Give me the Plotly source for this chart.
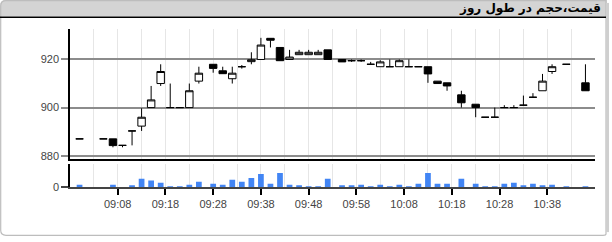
import plotly.graph_objects as go

DAY = "2024-01-01 "
times = ["09:00", "09:05", "09:07", "09:09", "09:11", "09:13", "09:15", "09:17", "09:19", "09:21",
         "09:23", "09:25", "09:28", "09:30", "09:32", "09:34", "09:36", "09:38", "09:40", "09:42",
         "09:44", "09:46", "09:48", "09:50", "09:52", "09:55", "09:57", "09:59", "10:01", "10:03",
         "10:05", "10:07", "10:09", "10:11", "10:13", "10:15", "10:17", "10:20", "10:23", "10:25",
         "10:27", "10:29", "10:31", "10:33", "10:35", "10:37", "10:39", "10:42", "10:46"]
open_ = [887, 887, 887, 884.3, 890.3, 892.3, 900, 910, 900, 900,
         900, 911, 918, 915.3, 912, 917, 919.1, 920, 928.8, 925,
         920, 922, 922, 922, 924, 920, 919.5, 919.5, 918, 917,
         917, 917, 917, 917, 917, 911, 910.3, 905.3, 901.4, 896,
         896, 900, 900, 901, 904.3, 907, 915, 918, 910.3]
high = [887, 887, 887, 884.3, 890.3, 899.7, 909, 918, 910, 900,
        910, 917, 918, 917, 917, 917.7, 923, 929, 928.8, 925,
        924, 924, 924, 924, 924, 920, 920, 920, 919, 919.7,
        920, 920, 920, 917, 917, 911, 910.3, 907, 901.4, 896,
        900, 901, 901, 905, 906, 914, 918, 918, 918]
low = [887, 887, 883.5, 883.5, 884.3, 890.3, 900, 909, 900, 900,
       900, 910, 914.5, 914.1, 910, 916.2, 918, 920, 925, 919.5,
       920, 922, 922, 922, 920, 919, 919, 919, 918, 917,
       917, 917, 917, 917, 910.3, 910, 907, 900, 896, 896,
       896, 900, 900, 901, 904.3, 907, 914, 918, 907]
close = [887, 887, 884.2, 884.3, 890.3, 896, 903.2, 915, 900, 900,
         907, 914.3, 916.3, 914.1, 914.3, 917, 919.9, 926, 928, 919.5,
         921, 923, 923, 923, 920, 919, 919.5, 919.5, 918, 919,
         917, 919.5, 917, 917, 914, 910, 909, 902, 900, 896,
         896, 900, 900, 901, 904.3, 911, 917, 918, 907]
volume = [2.3, 0, 2.3, 0, 1.3, 8.3, 6.7, 4.3, 0.4, 0.4,
          2.3, 5.3, 3.3, 2.3, 7.3, 5.3, 9.3, 13.3, 3.3, 14.3,
          2.3, 1.3, 0.7, 0.3, 8.3, 1.3, 1.3, 2.3, 0.4, 2.3,
          0.4, 2.3, 0.4, 3.3, 14.3, 3.3, 3.3, 8.3, 3.3, 0.4,
          0.4, 3.3, 4.3, 1.3, 3.3, 1.3, 2.3, 0.4, 0.4]
price_ticks = [880, 900, 920]
time_ticks = ["09:08", "09:18", "09:28", "09:38", "09:48", "09:58", "10:08", "10:18", "10:28", "10:38"]
half_ticks = ["09:03", "09:13", "09:23", "09:33", "09:43", "09:53", "10:03", "10:13", "10:23", "10:33", "10:43"]
title_text = "قیمت،حجم در طول روز"

x = [DAY + t for t in times]
tickv = [DAY + t for t in time_ticks]
minorv = [DAY + t for t in half_ticks]
W, H = 612, 242


def px(xp):
    return xp / W


def py(yp):
    return 1 - yp / H


fig = go.Figure()
fig.add_trace(go.Candlestick(
    x=x, open=open_, high=high, low=low, close=close,
    xaxis="x", yaxis="y",
    increasing=dict(line=dict(color="black", width=1), fillcolor="white"),
    decreasing=dict(line=dict(color="black", width=1), fillcolor="black"),
    whiskerwidth=0, showlegend=False, hoverinfo="skip",
))
fig.add_trace(go.Bar(
    x=x, y=volume, xaxis="x2", yaxis="y2",
    marker=dict(color="#4285f4", line=dict(width=0)),
    width=[72000] * len(x), showlegend=False, hoverinfo="skip",
))

grid_light = "#e6e6e6"
tickfont = dict(family="Liberation Sans, Arial, sans-serif", size=11, color="#444")
xrange = [DAY + "08:58", DAY + "10:48"]
minor_cfg = dict(tickmode="array", tickvals=minorv, ticks="", showgrid=True,
                 gridcolor=grid_light, gridwidth=1)

fig.update_layout(
    width=W, height=H,
    margin=dict(l=0, r=0, t=0, b=0),
    paper_bgcolor="white", plot_bgcolor="white",
    boxgap=0.22, boxgroupgap=0,
    hovermode=False,
    xaxis=dict(
        domain=[px(70), px(595)], anchor="y", matches="x2", range=xrange,
        type="date", showticklabels=False, ticks="",
        tickmode="array", tickvals=tickv,
        showgrid=True, gridcolor=grid_light, gridwidth=1,
        minor=minor_cfg,
        showline=True, linecolor="black", linewidth=2,
        rangeslider=dict(visible=False), zeroline=False,
    ),
    yaxis=dict(
        domain=[py(163), py(29.3)], anchor="x", range=[878.65, 932.85],
        tickvals=price_ticks, ticks="outside", ticklen=7, tickwidth=1.5,
        tickcolor="#8c8c8c", showgrid=True, gridcolor="#8c8c8c", gridwidth=1.5,
        showline=True, linecolor="black", linewidth=1.5, zeroline=False,
        tickfont=tickfont,
    ),
    xaxis2=dict(
        domain=[px(70), px(595)], anchor="y2", range=xrange, type="date",
        tickmode="array", tickvals=tickv, ticktext=time_ticks,
        ticks="outside", ticklen=6, tickwidth=1.5, tickcolor="black",
        showgrid=True, gridcolor=grid_light, gridwidth=1,
        minor=minor_cfg,
        showline=True, linecolor="#444", linewidth=1.5, zeroline=False,
        tickfont=tickfont,
    ),
    yaxis2=dict(
        domain=[py(191.7), py(168.3)], anchor="x2", range=[0, 23.4],
        tickvals=[0], ticks="outside", ticklen=7, tickwidth=1.5, tickcolor="#444",
        showgrid=False, showline=True, linecolor="black", linewidth=1.5,
        zeroline=False, tickfont=tickfont,
    ),
)

r = 6
bar_path = (f"M {px(0)},{py(17)} L {px(0)},{py(r)} Q {px(0)},{py(0)} {px(r)},{py(0)} "
            f"L {px(607)},{py(0)} L {px(607)},{py(17)} Z")
fig.add_shape(type="path", xref="paper", yref="paper", path=bar_path,
              fillcolor="#d4d4d4", line=dict(width=0), layer="below")
border_path = (f"M {px(0.7)},{py(r)} Q {px(0.7)},{py(0.7)} {px(r)},{py(0.7)} "
               f"L {px(606)},{py(0.7)} L {px(606)},{py(240)} Q {px(606)},{py(241.3)} {px(603)},{py(241.3)} "
               f"L {px(r)},{py(241.3)} Q {px(0.7)},{py(241.3)} {px(0.7)},{py(236)} Z")
fig.add_shape(type="path", xref="paper", yref="paper", path=border_path,
              line=dict(color="#bdbdbd", width=1.2), fillcolor="rgba(0,0,0,0)")
fig.add_shape(type="line", xref="paper", yref="paper",
              x0=px(607.5), x1=px(607.5), y0=py(3), y1=py(238),
              line=dict(color="#cfcfcf", width=3))
fig.add_shape(type="line", xref="paper", yref="paper",
              x0=px(0), x1=px(606), y0=py(17.8), y1=py(17.8),
              line=dict(color="black", width=1.5))

fig.add_annotation(
    text="<b>" + title_text + "</b>", xref="paper", yref="paper", x=px(603), y=py(9),
    xanchor="right", yanchor="middle", showarrow=False,
    font=dict(family="DejaVu Sans, sans-serif", size=12, color="black"),
)

fig.write_html("out.html")
